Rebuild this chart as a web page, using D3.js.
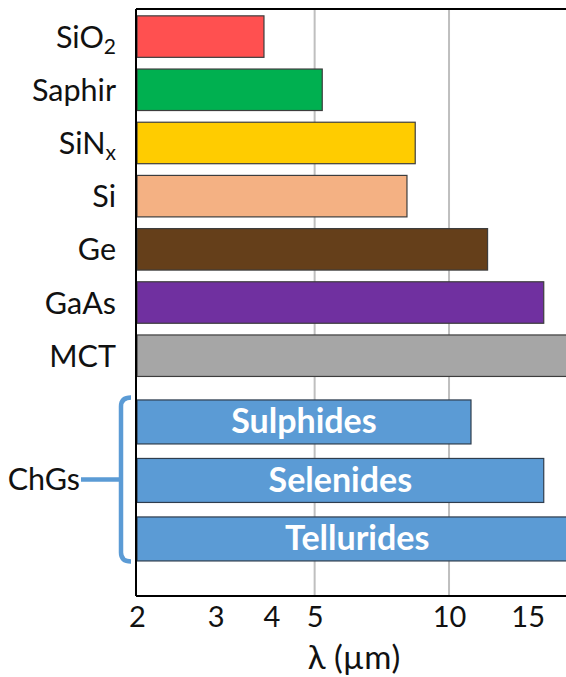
<!DOCTYPE html>
<html>
<head>
<meta charset="utf-8">
<script src="https://cdn.jsdelivr.net/npm/d3@7"></script>
<style>
  html, body { margin: 0; padding: 0; background: #fff; }
  svg { display: block; }
  text { font-family: Lato, "Open Sans", sans-serif; }
</style>
</head>
<body>
<svg id="chart" width="566" height="677"></svg>
<script>
// Transparency cut-off wavelengths (µm) of common IR materials
const materials = ["SiO_2", "Saphir", "SiN_x", "Si", "Ge", "GaAs", "MCT"];
const materialCutoff = [3.85, 5.2, 8.4, 8.05, 12.2, 16.3, 19.4];

// Chalcogenide glass families
const glasses = ["Sulphides", "Selenides", "Tellurides"];
const glassCutoff = [11.2, 16.3, 19.4];
const glassGroupLabel = "ChGs";

// Axis ticks
const tickValues = [2, 3, 4, 5, 10, 15];
const gridValues = [5, 10];
const xTitle = "λ (µm)";
const lambdaMin = 2;

const svg = d3.select("#chart");

const x = d3.scaleLog().domain([2, 20]).range([137, 583.4]);

const yMat = d3.scaleBand().domain(materials).range([10, 382.3])
  .paddingInner(0.22).paddingOuter(0.11);
const yGlass = d3.scaleBand().domain(glasses).range([392.7, 568.2])
  .paddingInner(0.248).paddingOuter(0.124);

const matColor = d3.scaleOrdinal().domain(materials)
  .range(["#FF5050", "#00B050", "#FFCC00", "#F4B183", "#653F1A", "#7030A0", "#A6A6A6"]);
const glassColor = "#5B9BD5";

const plotTop = 9, plotBottom = 596, plotLeft = 136;

// vertical gridlines
svg.append("g").selectAll("line").data(gridValues).join("line")
  .attr("x1", d => x(d)).attr("x2", d => x(d))
  .attr("y1", plotTop).attr("y2", plotBottom)
  .attr("stroke", "#BFBFBF").attr("stroke-width", 2);

// material bars
svg.append("g").selectAll("rect").data(materials).join("rect")
  .attr("x", x(lambdaMin))
  .attr("y", d => yMat(d))
  .attr("width", (d, i) => x(materialCutoff[i]) - x(lambdaMin))
  .attr("height", yMat.bandwidth())
  .attr("fill", d => matColor(d))
  .attr("stroke", "#3d3d3d").attr("stroke-width", 1.2);

// chalcogenide bars
svg.append("g").selectAll("rect").data(glasses).join("rect")
  .attr("x", x(lambdaMin))
  .attr("y", d => yGlass(d))
  .attr("width", (d, i) => x(glassCutoff[i]) - x(lambdaMin))
  .attr("height", yGlass.bandwidth())
  .attr("fill", glassColor)
  .attr("stroke", "#2f3d4d").attr("stroke-width", 1.2);

// names inside chalcogenide bars
svg.append("g").selectAll("text").data(glasses).join("text")
  .attr("x", (d, i) => (x(lambdaMin) + x(glassCutoff[i])) / 2)
  .attr("y", d => yGlass(d) + yGlass.bandwidth() / 2 + 11.5)
  .attr("text-anchor", "middle")
  .attr("fill", "#fff")
  .attr("font-weight", "bold")
  .attr("font-size", 34)
  .text(d => d);

// frame: top, left and bottom
const frame = svg.append("g").attr("stroke", "#000").attr("stroke-width", 2).attr("fill", "none");
frame.append("line").attr("x1", plotLeft).attr("x2", x.range()[1]).attr("y1", plotTop).attr("y2", plotTop);
frame.append("line").attr("x1", plotLeft).attr("x2", plotLeft).attr("y1", plotTop).attr("y2", plotBottom);
frame.append("line").attr("x1", plotLeft).attr("x2", x.range()[1]).attr("y1", plotBottom).attr("y2", plotBottom);

// x axis tick labels
const xAxis = d3.axisBottom(x).tickValues(tickValues).tickSize(0).tickPadding(0)
  .tickFormat(d3.format("d"));
const gx = svg.append("g").attr("transform", `translate(0,${plotBottom})`).call(xAxis);
gx.select(".domain").remove();
gx.selectAll("text")
  .attr("dy", null).attr("y", 31)
  .attr("font-family", "Lato, 'Open Sans', sans-serif")
  .attr("font-size", 29).attr("fill", "#111");

svg.append("text")
  .attr("x", 354).attr("y", 669)
  .attr("text-anchor", "middle")
  .attr("font-size", 33).attr("fill", "#111")
  .text(xTitle);

// material labels with subscripts
const lab = svg.append("g").selectAll("text").data(materials).join("text")
  .attr("x", 116)
  .attr("y", d => yMat(d) + yMat.bandwidth() / 2 + 11)
  .attr("text-anchor", "end")
  .attr("font-size", 30.5).attr("fill", "#111");
lab.each(function (d) {
  const [base, sub] = d.split("_");
  const t = d3.select(this);
  t.append("tspan").text(base);
  if (sub) t.append("tspan").attr("font-size", 21).attr("dy", 6).text(sub);
});

// chalcogenide group bracket
const gTop = yGlass(glasses[0]) - 2.5;
const gBot = yGlass(glasses[glasses.length - 1]) + yGlass.bandwidth() + 0.5;
const gMid = (gTop + gBot) / 2;
const bx = 121;
svg.append("path")
  .attr("d", `M131,${gTop} Q${bx},${gTop} ${bx},${gTop + 9} L${bx},${gBot - 9} Q${bx},${gBot} 131,${gBot}`)
  .attr("fill", "none").attr("stroke", glassColor).attr("stroke-width", 4.5);
svg.append("line")
  .attr("x1", 81).attr("x2", bx).attr("y1", gMid).attr("y2", gMid)
  .attr("stroke", glassColor).attr("stroke-width", 4.5);
svg.append("text")
  .attr("x", 80).attr("y", gMid + 10.5)
  .attr("text-anchor", "end")
  .attr("font-size", 30.5).attr("fill", "#111")
  .text(glassGroupLabel);
</script>
</body>
</html>
